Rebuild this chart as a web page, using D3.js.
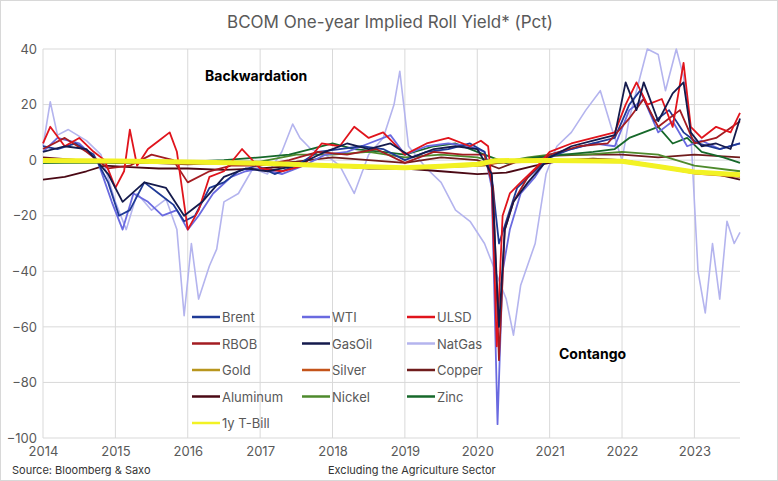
<!DOCTYPE html>
<html><head><meta charset="utf-8">
<script src="https://cdn.jsdelivr.net/npm/d3@7"></script>
<style>body{margin:0;background:#fff}text{font-family:Inter,"Noto Sans",sans-serif}</style>
</head><body>
<svg id="c" width="778" height="481"></svg>
<script>
// values: [year, pct]
const natgas = [[2014,5],[2014.1,21],[2014.2,9],[2014.35,11],[2014.6,7],[2014.8,2],[2015,-15],[2015.15,-25],[2015.3,-12],[2015.5,-18],[2015.7,-14],[2015.85,-25],[2015.95,-56],[2016.05,-30],[2016.15,-50],[2016.3,-38],[2016.4,-32],[2016.5,-15],[2016.7,-12],[2016.9,-3],[2017.1,-5],[2017.3,3],[2017.45,13],[2017.55,8],[2017.7,4],[2017.9,2],[2018.1,-2],[2018.3,-12],[2018.5,2],[2018.7,8],[2018.85,20],[2018.93,32],[2019.05,5],[2019.3,-3],[2019.5,-8],[2019.7,-18],[2019.9,-22],[2020.1,-30],[2020.25,-40],[2020.4,-50],[2020.5,-63],[2020.6,-45],[2020.8,-30],[2020.95,-5],[2021.1,5],[2021.3,10],[2021.5,18],[2021.7,25],[2021.85,12],[2022,0],[2022.1,15],[2022.25,30],[2022.35,40],[2022.5,38],[2022.6,25],[2022.75,40],[2022.85,30],[2022.95,10],[2023.05,-40],[2023.15,-55],[2023.25,-30],[2023.35,-50],[2023.45,-22],[2023.55,-30],[2023.63,-26]];
const wti = [[2014,3],[2014.2,8],[2014.5,6],[2014.75,0],[2014.95,-15],[2015.1,-25],[2015.25,-12],[2015.45,-15],[2015.65,-20],[2015.85,-18],[2016,-25],[2016.15,-20],[2016.35,-12],[2016.6,-6],[2016.8,-4],[2017,-3],[2017.3,-5],[2017.6,-2],[2017.9,2],[2018.2,3],[2018.5,6],[2018.8,9],[2019,2],[2019.3,5],[2019.6,6],[2019.9,5],[2020.1,3],[2020.2,-10],[2020.28,-95],[2020.35,-40],[2020.45,-25],[2020.6,-12],[2020.8,-6],[2021,2],[2021.3,4],[2021.6,6],[2021.9,5],[2022.1,18],[2022.3,22],[2022.5,10],[2022.7,14],[2022.9,5],[2023.1,7],[2023.35,4],[2023.63,6]];
const brent = [[2014,5],[2014.2,4],[2014.45,6],[2014.7,2],[2014.9,-8],[2015.05,-20],[2015.2,-18],[2015.4,-8],[2015.6,-12],[2015.8,-16],[2015.95,-22],[2016.1,-20],[2016.3,-10],[2016.5,-8],[2016.7,-4],[2016.95,-2],[2017.2,-5],[2017.5,-2],[2017.8,3],[2018.1,4],[2018.4,5],[2018.7,4],[2019,0],[2019.3,3],[2019.6,4],[2019.9,6],[2020.1,3],[2020.2,-6],[2020.3,-30],[2020.4,-22],[2020.55,-10],[2020.75,-5],[2021,1],[2021.3,4],[2021.6,6],[2021.9,8],[2022.1,20],[2022.25,25],[2022.45,14],[2022.65,18],[2022.85,10],[2023.05,6],[2023.35,4],[2023.63,6]];
const ulsd = [[2014,6],[2014.1,12],[2014.3,5],[2014.5,8],[2014.7,3],[2014.85,0],[2015,-10],[2015.12,-4],[2015.2,11],[2015.3,-2],[2015.45,4],[2015.6,7],[2015.75,10],[2015.85,3],[2016,-25],[2016.15,-18],[2016.3,-6],[2016.5,-4],[2016.75,4],[2017,-3],[2017.3,-4],[2017.6,-2],[2017.85,6],[2018.1,5],[2018.3,12],[2018.5,8],[2018.7,10],[2019,2],[2019.3,6],[2019.6,8],[2019.9,5],[2020.05,7],[2020.15,5],[2020.2,-8],[2020.27,-67],[2020.35,-20],[2020.45,-12],[2020.6,-8],[2020.8,-3],[2021,3],[2021.3,6],[2021.6,8],[2021.9,10],[2022.05,20],[2022.2,28],[2022.35,20],[2022.55,22],[2022.7,12],[2022.85,35],[2022.95,12],[2023.1,8],[2023.3,12],[2023.5,10],[2023.63,17]];
const rbob = [[2014,4],[2014.3,8],[2014.6,3],[2014.9,-3],[2015.2,-2],[2015.5,2],[2015.8,0],[2016,-8],[2016.3,-4],[2016.6,-2],[2017,-2],[2017.4,0],[2017.8,3],[2018.2,2],[2018.6,4],[2019,-1],[2019.4,3],[2019.8,2],[2020.1,2],[2020.22,-10],[2020.3,-72],[2020.38,-25],[2020.5,-15],[2020.7,-6],[2021,2],[2021.4,5],[2021.8,6],[2022.1,15],[2022.3,22],[2022.5,12],[2022.8,18],[2023,6],[2023.3,8],[2023.63,14]];
const gasoil = [[2014,3],[2014.3,5],[2014.6,4],[2014.9,-5],[2015.1,-15],[2015.4,-8],[2015.7,-10],[2015.95,-20],[2016.2,-15],[2016.5,-6],[2016.8,-3],[2017.1,-4],[2017.5,-2],[2017.9,3],[2018.2,6],[2018.5,4],[2018.8,6],[2019.1,1],[2019.4,4],[2019.7,5],[2020,4],[2020.2,-5],[2020.3,-60],[2020.38,-25],[2020.5,-15],[2020.7,-8],[2021,1],[2021.3,5],[2021.6,7],[2021.9,9],[2022.05,28],[2022.2,18],[2022.3,28],[2022.5,14],[2022.7,24],[2022.85,28],[2022.95,10],[2023.1,5],[2023.3,6],[2023.5,4],[2023.63,15]];
const gold = [[2014,-0.5],[2015,-0.5],[2016,-1],[2017,-1.5],[2018,-2.3],[2019,-3],[2019.6,-2.5],[2020.1,-2],[2020.3,-0.5],[2021,-0.5],[2022,-0.8],[2022.5,-2.5],[2023,-4.5],[2023.63,-5.8]];
const silver = [[2014,-0.3],[2015,-0.6],[2016,-1],[2017,-1.3],[2018,-2],[2019,-2.8],[2019.6,-2.3],[2020.1,-1.8],[2020.3,-1],[2021,-0.3],[2022,-0.6],[2022.5,-2.5],[2023,-4.8],[2023.63,-6]];
const copper = [[2014,1],[2014.5,0],[2015,-1],[2015.5,-1],[2016,-1.5],[2016.5,-1],[2017,-1.5],[2017.5,-0.5],[2018,1],[2018.5,0],[2019,-1],[2019.5,1],[2020,0],[2020.3,-3],[2020.6,0],[2021,1.5],[2021.5,2],[2022,2],[2022.5,1],[2023,2],[2023.63,1]];
const aluminum = [[2014,-7],[2014.3,-6],[2014.6,-4],[2014.85,-2],[2015.2,-2.5],[2015.6,-3],[2016,-3],[2016.5,-3.5],[2017,-3],[2017.5,-2],[2018,-2],[2018.5,-3],[2019,-3],[2019.5,-4],[2020,-5],[2020.4,-4.5],[2020.8,-2],[2021.2,0],[2021.6,0.5],[2022,0],[2022.5,-2],[2023,-4],[2023.3,-5],[2023.63,-7]];
const nickel = [[2014,-1],[2014.5,-0.5],[2015,-0.5],[2015.5,-0.5],[2016,-1],[2016.5,-0.5],[2017,-0.5],[2017.5,2],[2018,2],[2018.5,3],[2019,1],[2019.5,2],[2020,1],[2020.3,-1],[2020.7,1],[2021,2],[2021.5,2],[2022,3],[2022.5,2],[2023,-2],[2023.63,-4]];
const zinc = [[2014,-1],[2014.5,-1],[2015,-1],[2015.5,-1],[2016,-0.5],[2016.5,0],[2017,1],[2017.4,2],[2017.7,4],[2018,6],[2018.3,4],[2018.7,3],[2019,2],[2019.4,5],[2019.7,6],[2020,3],[2020.2,1],[2020.4,-1],[2020.8,1],[2021.2,2],[2021.6,3],[2021.9,4],[2022.1,8],[2022.3,10],[2022.5,12],[2022.7,6],[2022.9,8],[2023.1,3],[2023.4,1],[2023.63,-1]];
const tbill = [[2014,-0.1],[2015,-0.3],[2016,-0.7],[2017,-1.1],[2018,-2],[2019,-2.7],[2019.5,-2.2],[2020,-1.5],[2020.25,-0.2],[2021,-0.1],[2022,-0.4],[2022.5,-2.3],[2023,-4.3],[2023.63,-5.3]];

const seriesNames = ["Brent","WTI","ULSD","RBOB","GasOil","NatGas","Gold","Silver","Copper","Aluminum","Nickel","Zinc","1y T-Bill"];
const seriesData = [brent,wti,ulsd,rbob,gasoil,natgas,gold,silver,copper,aluminum,nickel,zinc,tbill];
const colors = ["#1f3a96","#6a6ae0","#e0141c","#a31c22","#141a4c","#b4b4ee","#b8961e","#c4541a","#701c1c","#4a0814","#4e8a2c","#16682a","#f2f224"];
const drawOrder = [5,9,8,6,7,10,11,1,0,3,2,4,12];
const yTicks = [40,20,0,-20,-40,-60,-80,-100];
const xTicks = [2014,2015,2016,2017,2018,2019,2020,2021,2022,2023];

const svg = d3.select("#c");
svg.append("rect").attr("x",0.5).attr("y",0.5).attr("width",777).attr("height",480).attr("fill","none").attr("stroke","#d8d8d8");

const x = d3.scaleLinear().domain([2014,2023.63]).range([43,740]);
const y = d3.scaleLinear().domain([-100,40]).range([438,49]);

// grid
svg.append("g").selectAll("line").data(yTicks).join("line")
  .attr("x1",43).attr("x2",740).attr("y1",d=>y(d)).attr("y2",d=>y(d)).attr("stroke","#d9d9d9");
svg.append("g").selectAll("line").data(xTicks).join("line")
  .attr("y1",y(-100)).attr("y2",y(40)).attr("x1",d=>x(d)).attr("x2",d=>x(d)).attr("stroke","#d9d9d9");

svg.append("g").attr("transform","translate(43,0)")
  .call(d3.axisLeft(y).tickValues(yTicks).tickSize(0).tickPadding(6))
  .call(g=>g.select(".domain").remove())
  .call(g=>g.selectAll("text").attr("font-size",13).attr("fill","#595959").attr("font-family","Inter,sans-serif"));
svg.append("g").attr("transform","translate(0,438)")
  .call(d3.axisBottom(x).tickValues(xTicks).tickFormat(d3.format("d")).tickSize(0).tickPadding(9))
  .call(g=>g.select(".domain").remove())
  .call(g=>g.selectAll("text").attr("font-size",13).attr("fill","#595959").attr("font-family","Inter,sans-serif"));

const line = d3.line().x(d=>x(d[0])).y(d=>y(d[1]));
drawOrder.forEach(i=>{
  svg.append("path").datum(seriesData[i]).attr("d",line).attr("fill","none")
    .attr("stroke",colors[i]).attr("stroke-width",i===12?5:(i===5?1.6:1.8)).attr("stroke-linejoin","round");
});

// legend
const lg = svg.append("g");
seriesNames.forEach((n,i)=>{
  const lx = [192,302,407][i%3], ly = 317+Math.floor(i/3)*26.5;
  lg.append("line").attr("x1",lx).attr("x2",lx+28).attr("y1",ly).attr("y2",ly).attr("stroke",colors[i]).attr("stroke-width",2.5);
  lg.append("text").attr("x",lx+30).attr("y",ly+5).attr("font-size",13).attr("fill","#595959").text(n);
});

svg.append("text").attr("x",390).attr("y",28).attr("text-anchor","middle").attr("font-size",17).attr("fill","#595959").text("BCOM One-year Implied Roll Yield* (Pct)");
svg.append("text").attr("x",205).attr("y",81).attr("font-size",14).attr("font-weight","bold").attr("fill","#000").text("Backwardation");
svg.append("text").attr("x",559).attr("y",359).attr("font-size",14).attr("font-weight","bold").attr("fill","#000").text("Contango");
svg.append("text").attr("x",12).attr("y",474).attr("font-size",11).attr("fill","#333").text("Source: Bloomberg & Saxo");
svg.append("text").attr("x",328).attr("y",474).attr("font-size",11).attr("fill","#333").text("Excluding the Agriculture Sector");
</script>
</body></html>
